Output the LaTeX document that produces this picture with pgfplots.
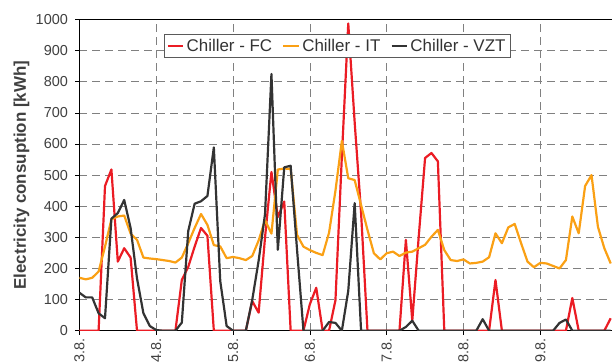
\documentclass[border=0pt]{standalone}
\usepackage{fontspec}
\setmainfont{Liberation Sans}
\usepackage{pgfplots}
\usepackage{pgfplotstable}
\pgfplotsset{compat=1.18}
\definecolor{fc}{RGB}{235,28,36}
\definecolor{it}{RGB}{250,160,20}
\definecolor{vzt}{RGB}{51,51,51}
\definecolor{tl}{RGB}{64,64,64}
\definecolor{gr}{RGB}{128,128,128}

\pgfplotstableread{
i FC IT VZT
0 0 170 122
1 0 165 107
2 0 170 107
3 0 190 56
4 465 270 40
5 518 358 360
6 222 367 378
7 265 370 420
8 235 312 330
9 0 292 168
10 0 235 56
11 0 232 15
12 0 230 2
13 0 227 0
14 0 224 0
15 0 219 0
16 163 235 26
17 205 281 320
18 270 330 408
19 330 375 416
20 305 340 433
21 0 275 589
22 0 271 160
23 0 233 15
24 0 237 0
25 0 233 0
26 0 227 0
27 95 240 99
28 58 290 225
29 300 355 375
30 510 312 825
31 365 518 260
32 415 521 525
33 0 520 530
34 0 308 260
35 0 270 0
36 85 259 0
37 138 250 0
38 0 243 0
39 0 315 28
40 98 450 25
41 560 610 0
42 987 490 128
43 670 484 410
44 380 404 0
45 0 324 0
46 0 249 0
47 0 229 0
48 0 249 0
49 0 254 0
50 0 240 0
51 292 251 12
52 32 254 32
53 300 265 0
54 555 276 0
55 571 302 0
56 544 324 0
57 0 259 0
58 0 227 0
59 0 224 0
60 0 229 0
61 0 216 0
62 0 218 0
63 0 222 37
64 0 236 0
65 163 313 0
66 0 281 0
67 0 332 0
68 0 343 0
69 0 281 0
70 0 222 0
71 0 204 0
72 0 218 0
73 0 216 0
74 0 208 0
75 0 200 25
76 0 227 36
77 105 367 0
78 0 313 0
79 0 465 0
80 0 500 0
81 0 334 0
82 0 265 0
83 40 216 0
}\data

\begin{document}
\begin{tikzpicture}
\begin{axis}[
 name=ax,
 scale only axis, width=532.6bp, height=311.2bp,
 xmin=0, xmax=83.2, ymin=0, ymax=1000,
 axis x line*=bottom, axis y line*=left,
 axis line style={black, line width=0.8pt, -},
 xtick={0,12,...,84}, xticklabels={3.8.,4.8.,5.8.,6.8.,7.8.,8.8.,9.8.,10.8.},
 ytick={0,100,...,1000},
 tick align=outside, major tick length=4bp,
 tick style={black, line width=0.6pt},
 grid=major,
 major grid style={gr, dash pattern=on 8bp off 5bp, line width=0.6pt},
 /pgf/number format/assume math mode=true,
 /pgf/number format/1000 sep={},
 yticklabel style={font=\fontsize{14.5}{17}\selectfont, text=tl, xshift=-4bp},
 xticklabel style={font=\fontsize{14.5}{17}\selectfont, text=tl, rotate=90, anchor=east},
 ylabel={Electricity consuption [kWh]},
 ylabel style={font=\fontsize{17}{20}\selectfont\bfseries, text=tl, at={(axis description cs:-0.1087,0.5)}, anchor=center},
 legend columns=3,
 legend style={at={(axis description cs:0.4837,0.915)}, anchor=center, draw=gr!70!black, line width=0.8pt, font=\fontsize{17}{20}\selectfont, text=black!80, inner sep=2.5bp, /tikz/every even column/.append style={column sep=8bp}},
 legend image code/.code={\draw[#1, line width=2.5pt] (0cm,0cm) -- (0.55cm,0cm);},
 every axis plot/.append style={line width=2.2pt, line join=round, no markers},
]
\addplot[fc] table[x=i, y=FC] {\data};
\addlegendentry{Chiller - FC}
\addplot[it] table[x=i, y=IT] {\data};
\addlegendentry{Chiller - IT}
\addplot[vzt] table[x=i, y=VZT] {\data};
\addlegendentry{Chiller - VZT}
\end{axis}
\draw[black, line width=0.8pt] (ax.north west) -- (ax.north east);
\pgfresetboundingbox
\path[use as bounding box] ([xshift=-79.4bp, yshift=-32.3bp]ax.south west) rectangle ([yshift=19.5bp]ax.north east);
\end{tikzpicture}
\end{document}
